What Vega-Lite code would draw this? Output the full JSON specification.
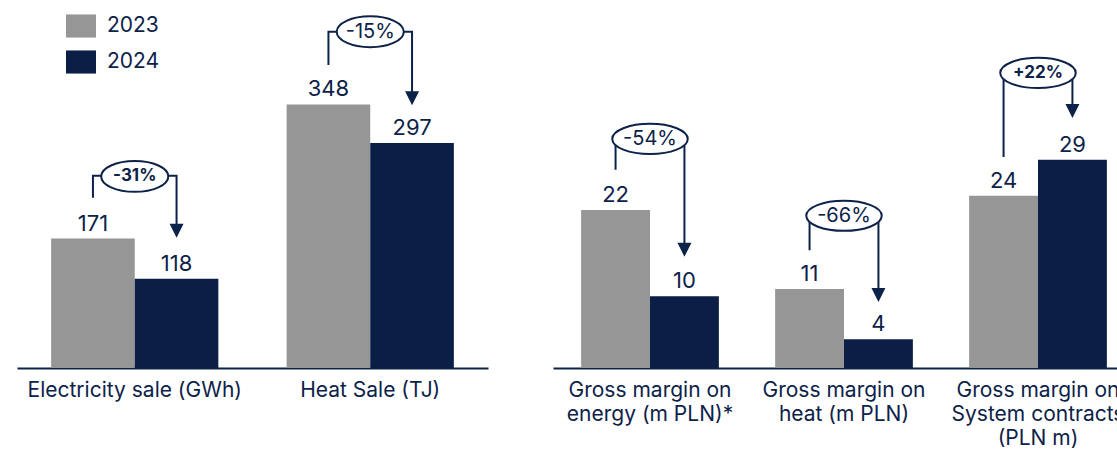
{
  "$schema": "https://vega.github.io/schema/vega-lite/v6.json",
  "padding": {"left": 17, "top": 0, "right": 0, "bottom": 0},
  "background": "white",
  "spacing": 65,
  "config": {
    "view": {"stroke": null},
    "font": "Inter",
    "axisX": {
      "title": null, "domainColor": "#0d2249", "domainWidth": 2, "ticks": false,
      "labelAngle": 0, "labelFontSize": 21, "labelColor": "#0d2249", "labelPadding": 11,
      "labelFont": "Inter", "labelLineHeight": 24, "labelBaseline": "top", "labelLimit": 400, "grid": false
    }
  },
  "resolve": {"legend": {"color": "independent"}, "scale": {"x": "independent", "y": "independent", "xOffset": "independent"}},
  "datasets": {
    "bars": [
      {"panel": "L", "category": "Electricity sale (GWh)", "year": "2023", "value": 171},
      {"panel": "L", "category": "Electricity sale (GWh)", "year": "2024", "value": 118},
      {"panel": "L", "category": "Heat Sale (TJ)", "year": "2023", "value": 348},
      {"panel": "L", "category": "Heat Sale (TJ)", "year": "2024", "value": 297},
      {"panel": "R", "category": "Gross margin on energy (m PLN)*", "year": "2023", "value": 22},
      {"panel": "R", "category": "Gross margin on energy (m PLN)*", "year": "2024", "value": 10},
      {"panel": "R", "category": "Gross margin on heat (m PLN)", "year": "2023", "value": 11},
      {"panel": "R", "category": "Gross margin on heat (m PLN)", "year": "2024", "value": 4},
      {"panel": "R", "category": "Gross margin on System contracts (PLN m)", "year": "2023", "value": 24},
      {"panel": "R", "category": "Gross margin on System contracts (PLN m)", "year": "2024", "value": 29}
    ],
    "brackets": [
      {"panel": "L", "category": "Electricity sale (GWh)", "year": "2023", "step": 1, "value": 225},
      {"panel": "L", "category": "Electricity sale (GWh)", "year": "2023", "step": 2, "value": 254},
      {"panel": "L", "category": "Electricity sale (GWh)", "year": "2024", "step": 3, "value": 254},
      {"panel": "L", "category": "Electricity sale (GWh)", "year": "2024", "step": 4, "value": 185},
      {"panel": "L", "category": "Heat Sale (TJ)", "year": "2023", "step": 1, "value": 400},
      {"panel": "L", "category": "Heat Sale (TJ)", "year": "2023", "step": 2, "value": 444},
      {"panel": "L", "category": "Heat Sale (TJ)", "year": "2024", "step": 3, "value": 444},
      {"panel": "L", "category": "Heat Sale (TJ)", "year": "2024", "step": 4, "value": 361},
      {"panel": "R", "category": "Gross margin on energy (m PLN)*", "year": "2023", "step": 1, "value": 27.6},
      {"panel": "R", "category": "Gross margin on energy (m PLN)*", "year": "2023", "step": 2, "value": 31.9},
      {"panel": "R", "category": "Gross margin on energy (m PLN)*", "year": "2024", "step": 3, "value": 31.9},
      {"panel": "R", "category": "Gross margin on energy (m PLN)*", "year": "2024", "step": 4, "value": 16.9},
      {"panel": "R", "category": "Gross margin on heat (m PLN)", "year": "2023", "step": 1, "value": 16.4},
      {"panel": "R", "category": "Gross margin on heat (m PLN)", "year": "2023", "step": 2, "value": 21.2},
      {"panel": "R", "category": "Gross margin on heat (m PLN)", "year": "2024", "step": 3, "value": 21.2},
      {"panel": "R", "category": "Gross margin on heat (m PLN)", "year": "2024", "step": 4, "value": 10.4},
      {"panel": "R", "category": "Gross margin on System contracts (PLN m)", "year": "2023", "step": 1, "value": 29.4},
      {"panel": "R", "category": "Gross margin on System contracts (PLN m)", "year": "2023", "step": 2, "value": 41.1},
      {"panel": "R", "category": "Gross margin on System contracts (PLN m)", "year": "2024", "step": 3, "value": 41.1},
      {"panel": "R", "category": "Gross margin on System contracts (PLN m)", "year": "2024", "step": 4, "value": 36.2}
    ],
    "arrows": [
      {"panel": "L", "category": "Electricity sale (GWh)", "year": "2024", "value": 172},
      {"panel": "L", "category": "Heat Sale (TJ)", "year": "2024", "value": 347},
      {"panel": "R", "category": "Gross margin on energy (m PLN)*", "year": "2024", "value": 15.5},
      {"panel": "R", "category": "Gross margin on heat (m PLN)", "year": "2024", "value": 9.2},
      {"panel": "R", "category": "Gross margin on System contracts (PLN m)", "year": "2024", "value": 34.8}
    ],
    "badges": [
      {"panel": "L", "category": "Electricity sale (GWh)", "label": "-31%", "value": 253},
      {"panel": "L", "category": "Heat Sale (TJ)", "label": "-15%", "value": 444},
      {"panel": "R", "category": "Gross margin on energy (m PLN)*", "label": "-54%", "value": 31.9},
      {"panel": "R", "category": "Gross margin on heat (m PLN)", "label": "-66%", "value": 21.2},
      {"panel": "R", "category": "Gross margin on System contracts (PLN m)", "label": "+22%", "value": 41.1}
    ]
  },
  "hconcat": [
    {
      "width": 471,
      "height": 368,
      "encoding": {
        "x": {"field": "category", "type": "nominal",
              "scale": {"domain": ["Electricity sale (GWh)", "Heat Sale (TJ)"], "paddingInner": 0.29, "paddingOuter": 0.145}},
        "y": {"field": "value", "type": "quantitative", "scale": {"domain": [0, 486], "nice": false}, "axis": null}
      },
      "layer": [
        {
          "data": {"name": "bars"},
          "transform": [{"filter": "datum.panel == 'L'"}],
          "mark": {"type": "bar"},
          "encoding": {
            "xOffset": {"field": "year", "type": "nominal", "scale": {"domain": ["2023", "2024"], "paddingInner": 0, "paddingOuter": 0}},
            "color": {"field": "year", "type": "nominal",
              "scale": {"domain": ["2023", "2024"], "range": ["#969696", "#0a1e46"]},
              "legend": {"title": null, "orient": "none", "legendX": 49, "legendY": 11, "direction": "vertical",
                "symbolType": "M-1,-0.77L1,-0.77L1,0.77L-1,0.77Z", "symbolSize": 900, "symbolStrokeWidth": 0,
                "labelFontSize": 21, "labelColor": "#0d2249", "labelFont": "Inter", "labelOffset": 11, "rowPadding": 9}}
          }
        },
        {
          "data": {"name": "bars"},
          "transform": [{"filter": "datum.panel == 'L'"}],
          "mark": {"type": "text", "dy": -8, "baseline": "alphabetic", "fontSize": 22, "color": "#0d2249", "font": "Inter"},
          "encoding": {
            "xOffset": {"field": "year", "type": "nominal"},
            "text": {"field": "value", "type": "quantitative"}
          }
        },
        {
          "data": {"name": "brackets"},
          "transform": [{"filter": "datum.panel == 'L'"}],
          "mark": {"type": "line", "color": "#0d2249", "strokeWidth": 2},
          "encoding": {
            "xOffset": {"field": "year", "type": "nominal"},
            "order": {"field": "step", "type": "quantitative"},
            "detail": {"field": "category", "type": "nominal"}
          }
        },
        {
          "data": {"name": "arrows"},
          "transform": [{"filter": "datum.panel == 'L'"}],
          "mark": {"type": "point", "shape": "M-1,-2L1,-2L0,0Z", "size": 196, "filled": true, "color": "#0d2249", "opacity": 1},
          "encoding": {"xOffset": {"field": "year", "type": "nominal"}}
        },
        {
          "data": {"name": "badges"},
          "transform": [{"filter": "datum.panel == 'L'"}],
          "mark": {"type": "point", "shape": "M-1,0C-1,-0.254,-0.552,-0.46,0,-0.46C0.552,-0.46,1,-0.254,1,0C1,0.254,0.552,0.46,0,0.46C-0.552,0.46,-1,0.254,-1,0Z", "size": 4500, "filled": false, "fill": "white", "fillOpacity": 1, "stroke": "#0d2249", "strokeWidth": 2, "opacity": 1}
        },
        {
          "data": {"name": "badges"},
          "transform": [{"filter": "datum.panel == 'L' && datum.label == '-31%'"}],
          "mark": {"type": "text", "baseline": "middle", "color": "#0d2249", "font": "Inter", "fontSize": 17, "fontWeight": "bold"},
          "encoding": {"text": {"field": "label", "type": "nominal"}}
        },
        {
          "data": {"name": "badges"},
          "transform": [{"filter": "datum.panel == 'L' && datum.label != '-31%'"}],
          "mark": {"type": "text", "baseline": "middle", "color": "#0d2249", "font": "Inter", "fontSize": 20},
          "encoding": {"text": {"field": "label", "type": "nominal"}}
        }
      ]
    },
    {
      "width": 582,
      "height": 368,
      "encoding": {
        "x": {"field": "category", "type": "nominal",
              "scale": {"domain": ["Gross margin on energy (m PLN)*", "Gross margin on heat (m PLN)", "Gross margin on System contracts (PLN m)"], "paddingInner": 0.29, "paddingOuter": 0.145},
              "axis": {"labelExpr": "datum.label == 'Gross margin on energy (m PLN)*' ? ['Gross margin on', 'energy (m PLN)*'] : datum.label == 'Gross margin on heat (m PLN)' ? ['Gross margin on', 'heat (m PLN)'] : ['Gross margin on', 'System contracts', '(PLN m)']"}},
        "y": {"field": "value", "type": "quantitative", "scale": {"domain": [0, 51.25], "nice": false}, "axis": null}
      },
      "layer": [
        {
          "data": {"name": "bars"},
          "transform": [{"filter": "datum.panel == 'R'"}],
          "mark": {"type": "bar"},
          "encoding": {
            "xOffset": {"field": "year", "type": "nominal", "scale": {"domain": ["2023", "2024"], "paddingInner": 0, "paddingOuter": 0}},
            "color": {"field": "year", "type": "nominal",
              "scale": {"domain": ["2023", "2024"], "range": ["#969696", "#0a1e46"]}, "legend": null}
          }
        },
        {
          "data": {"name": "bars"},
          "transform": [{"filter": "datum.panel == 'R'"}],
          "mark": {"type": "text", "dy": -8, "baseline": "alphabetic", "fontSize": 22, "color": "#0d2249", "font": "Inter"},
          "encoding": {
            "xOffset": {"field": "year", "type": "nominal"},
            "text": {"field": "value", "type": "quantitative"}
          }
        },
        {
          "data": {"name": "brackets"},
          "transform": [{"filter": "datum.panel == 'R'"}],
          "mark": {"type": "line", "color": "#0d2249", "strokeWidth": 2},
          "encoding": {
            "xOffset": {"field": "year", "type": "nominal"},
            "order": {"field": "step", "type": "quantitative"},
            "detail": {"field": "category", "type": "nominal"}
          }
        },
        {
          "data": {"name": "arrows"},
          "transform": [{"filter": "datum.panel == 'R'"}],
          "mark": {"type": "point", "shape": "M-1,-2L1,-2L0,0Z", "size": 196, "filled": true, "color": "#0d2249", "opacity": 1},
          "encoding": {"xOffset": {"field": "year", "type": "nominal"}}
        },
        {
          "data": {"name": "badges"},
          "transform": [{"filter": "datum.panel == 'R'"}],
          "mark": {"type": "point", "shape": "M-1,0C-1,-0.221,-0.552,-0.4,0,-0.4C0.552,-0.4,1,-0.221,1,0C1,0.221,0.552,0.4,0,0.4C-0.552,0.4,-1,0.221,-1,0Z", "size": 5700, "filled": false, "fill": "white", "fillOpacity": 1, "stroke": "#0d2249", "strokeWidth": 2, "opacity": 1}
        },
        {
          "data": {"name": "badges"},
          "transform": [{"filter": "datum.panel == 'R' && datum.label == '+22%'"}],
          "mark": {"type": "text", "baseline": "middle", "color": "#0d2249", "font": "Inter", "fontSize": 17, "fontWeight": "bold"},
          "encoding": {"text": {"field": "label", "type": "nominal"}}
        },
        {
          "data": {"name": "badges"},
          "transform": [{"filter": "datum.panel == 'R' && datum.label != '+22%'"}],
          "mark": {"type": "text", "baseline": "middle", "color": "#0d2249", "font": "Inter", "fontSize": 20},
          "encoding": {"text": {"field": "label", "type": "nominal"}}
        }
      ]
    }
  ]
}
